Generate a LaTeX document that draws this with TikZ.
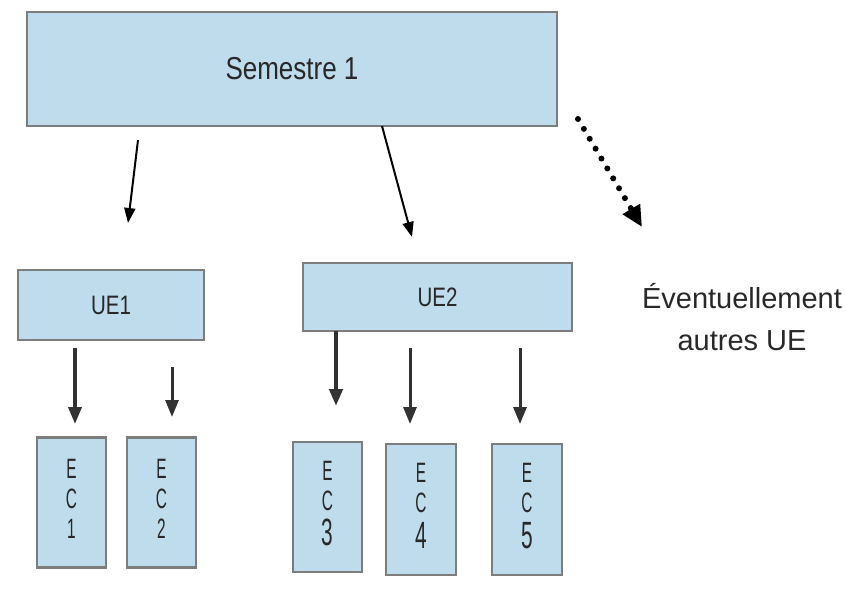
\documentclass[tikz,border=0pt]{standalone}
\usepackage{fontspec}
\setmainfont{Liberation Sans}
\usetikzlibrary{arrows.meta}
\definecolor{boxfill}{RGB}{190,220,235}
\definecolor{boxline}{RGB}{125,125,125}
\definecolor{txt}{RGB}{40,40,40}
\definecolor{arr}{RGB}{50,50,50}
\newcommand{\ecstack}[1]{\scalebox{0.55}[1]{\begin{tabular}{@{}c@{}}E\\C\\#1\end{tabular}}}
\newcommand{\ecbig}[1]{\scalebox{0.55}[1]{\begin{tabular}{@{}c@{}}E\\C\\{\fontsize{38}{30}\selectfont #1}\end{tabular}}}
\begin{document}
\begin{tikzpicture}[x=1pt,y=-1pt,
  box/.style={draw=boxline, line width=2.6pt, fill=boxfill, inner sep=0pt, text=txt},
  ecbox/.style={box, minimum width=69pt, minimum height=130pt, font=\fontsize{28}{30}\selectfont},
  conn/.style={draw=arr, line width=3.5pt, -{Triangle[width=13pt,length=17pt]}},
  topconn/.style={draw=black, line width=2pt, -{Triangle[width=11pt,length=15pt]}},
  dotconn/.style={draw=black, line width=6pt, line cap=round, dash pattern=on 0pt off 11.5pt, -{Triangle[width=19pt,length=21pt]}}]
\useasboundingbox (0,0) rectangle (846,592);
\fill[white] (0,0) rectangle (846,592);
% boxes
\node[box, minimum width=530pt, minimum height=114pt, font=\fontsize{26}{30}\selectfont] (sem) at (292,69) {\scalebox{1}[1.22]{Semestre 1}};
\node[box, minimum width=186pt, minimum height=70pt, font=\fontsize{20.5}{22}\selectfont] (ue1) at (111,305) {\scalebox{1}[1.3]{UE1}};
\node[box, minimum width=269pt, minimum height=68pt, font=\fontsize{20.5}{22}\selectfont] (ue2) at (437.5,297) {\scalebox{1}[1.3]{UE2}};
\node[ecbox] (ec1) at (71.5,502.5) {\ecstack{1}};
\node[ecbox] (ec2) at (161.5,502.5) {\ecstack{2}};
\node[ecbox, minimum height=130pt] (ec3) at (327.5,507) {\ecbig{3}};
\node[ecbox, minimum width=70pt, minimum height=131pt] (ec4) at (421,509.5) {\ecbig{4}};
\node[ecbox, minimum width=70pt, minimum height=131pt] (ec5) at (527,509.5) {\ecbig{5}};
\node[text=txt, font=\fontsize{29}{42}\selectfont, align=center, anchor=north] (autres) at (742,280) {Éventuellement\\autres UE};
% connector ends
\coordinate (s1a) at (138,140); \coordinate (s1b) at (128,223);
\coordinate (s2a) at (382,126); \coordinate (s2b) at (412,237);
\coordinate (s3a) at (578,119); \coordinate (s3b) at (642,227);
\coordinate (e1a) at (75,348);  \coordinate (e1b) at (75,424);
\coordinate (e2a) at (172,367); \coordinate (e2b) at (172,417);
\coordinate (e3a) at (336,331); \coordinate (e3b) at (336,406);
\coordinate (e4a) at (410,348); \coordinate (e4b) at (410,424);
\coordinate (e5a) at (520,348); \coordinate (e5b) at (520,424);
% connectors
\draw[topconn] (s1a) -- (s1b);
\draw[topconn] (s2a) -- (s2b);
\draw[dotconn] (s3a) -- (s3b);
\draw[conn] (e1a) -- (e1b);
\draw[conn, line width=3pt] (e2a) -- (e2b);
\draw[conn, line width=4.5pt] (e3a) -- (e3b);
\draw[conn, line width=3pt] (e4a) -- (e4b);
\draw[conn, line width=3pt] (e5a) -- (e5b);
\end{tikzpicture}
\end{document}
